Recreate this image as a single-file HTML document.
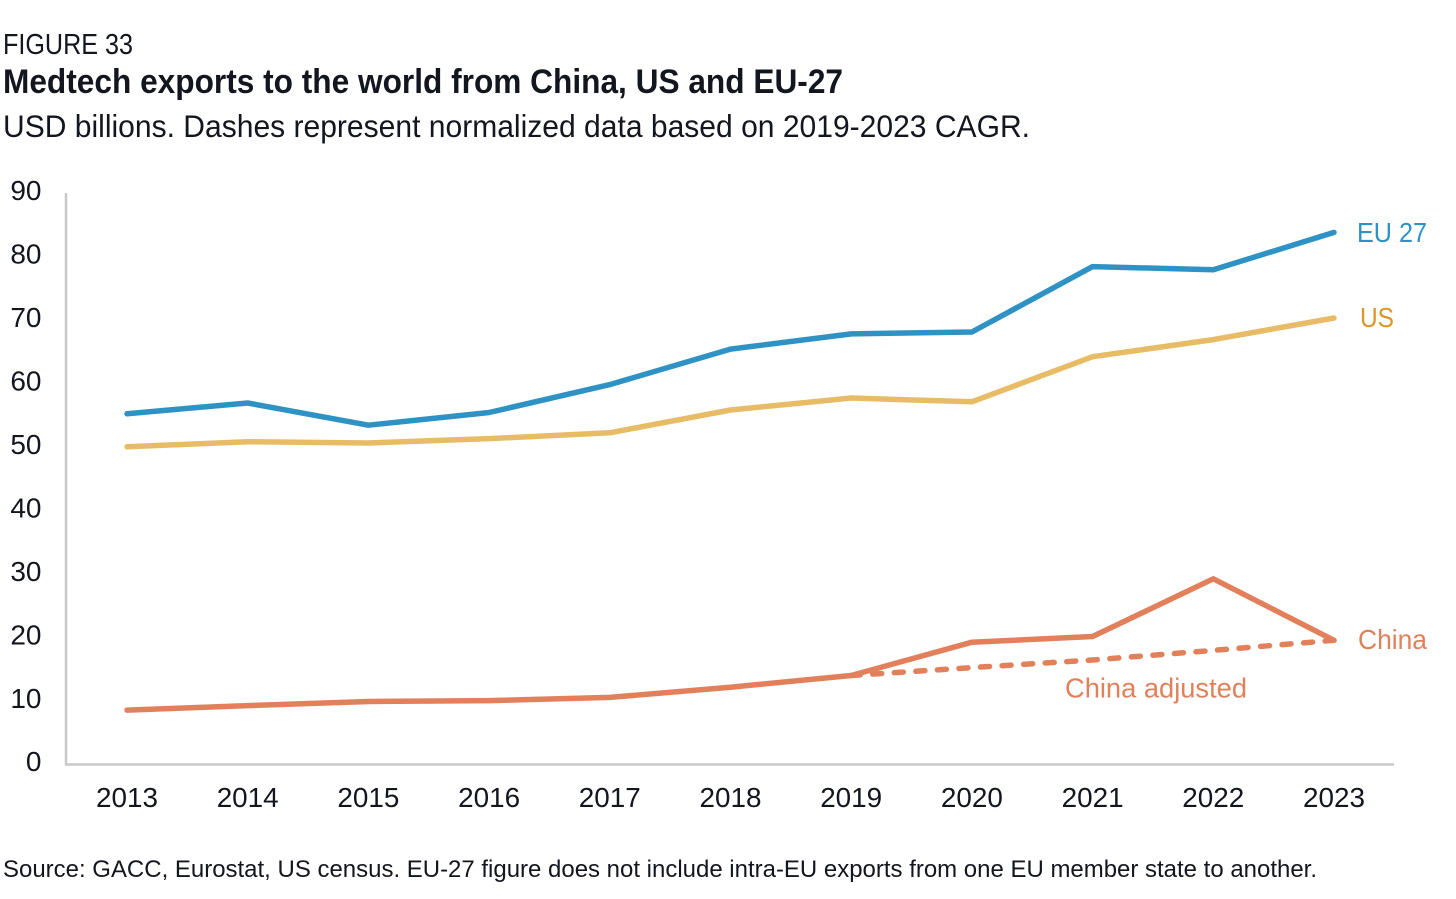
<!DOCTYPE html>
<html lang="en">
<head>
<meta charset="utf-8">
<title>Medtech exports to the world from China, US and EU-27</title>
<style>
html,body{margin:0;padding:0;background:#fff;width:1456px;height:899px;overflow:hidden}
svg{display:block}
text{font-family:"Liberation Sans",sans-serif;fill:#14161f}
</style>
</head>
<body>
<svg id="chart" width="1456" height="899" viewBox="0 0 1456 899" xmlns="http://www.w3.org/2000/svg">
<rect width="1456" height="899" fill="#fff"/>
<text x="3" y="54" font-size="29" textLength="130" lengthAdjust="spacingAndGlyphs">FIGURE 33</text>
<text x="3" y="93" font-size="34" font-weight="700" textLength="840" lengthAdjust="spacingAndGlyphs">Medtech exports to the world from China, US and EU-27</text>
<text x="3" y="137" font-size="31.5" textLength="1027" lengthAdjust="spacingAndGlyphs">USD billions. Dashes represent normalized data based on 2019-2023 CAGR.</text>
<text x="3" y="877" font-size="24.5" textLength="1314" lengthAdjust="spacingAndGlyphs">Source: GACC, Eurostat, US census. EU-27 figure does not include intra-EU exports from one EU member state to another.</text>
<g id="axes"></g>
<g id="series"></g>
<g id="labels"></g>
</svg>
<script>
const years = [2013, 2014, 2015, 2016, 2017, 2018, 2019, 2020, 2021, 2022, 2023];
const yTicks = [0, 10, 20, 30, 40, 50, 60, 70, 80, 90];
const euValues = [55.2, 56.9, 53.4, 55.4, 59.8, 65.4, 67.8, 68.1, 78.4, 77.9, 83.8];
const usValues = [50.0, 50.8, 50.6, 51.3, 52.2, 55.8, 57.7, 57.1, 64.2, 66.9, 70.3];
const chinaValues = [8.5, 9.2, 9.85, 10.0, 10.5, 12.1, 13.95, 19.2, 20.1, 29.2, 19.5];
const chinaAdjustedYears = [2019, 2020, 2021, 2022, 2023];
const chinaAdjustedValues = [13.95, 15.2, 16.4, 17.9, 19.5];

const NS = 'http://www.w3.org/2000/svg';
const xScale = year => 127 + (year - 2013) * 120.7;
const yScale = value => 764 - value * 6.344;
const COLORS = {eu: '#2e93c4', us: '#e8bc66', china: '#e2805c', axis: '#c8c8c8'};

function make(tag, attrs, parent, content) {
  const el = document.createElementNS(NS, tag);
  for (const key in attrs) el.setAttribute(key, attrs[key]);
  if (content !== undefined) el.textContent = content;
  parent.appendChild(el);
  return el;
}

const axes = document.getElementById('axes');
const series = document.getElementById('series');
const labels = document.getElementById('labels');

const yAxis = make('line', {x1: 66, y1: 193, x2: 66, y2: 765, stroke: COLORS.axis, 'stroke-width': 2.5}, axes);


const xAxis = make('line', {x1: 65, y1: 764.5, x2: 1394, y2: 764.5, stroke: COLORS.axis, 'stroke-width': 2.5}, axes);



yTicks.forEach(tick => {
  const el = make('text', {x: 41.5, y: yScale(tick) + 7.2, 'font-size': 28, 'text-anchor': 'end'}, axes, String(tick));
  
  
});
years.forEach(year => {
  const el = make('text', {x: xScale(year), y: 807, 'font-size': 28, 'text-anchor': 'middle', textLength: 62, lengthAdjust: 'spacingAndGlyphs'}, axes, String(year));
  
  
});

function pointsFor(xs, values) {
  return xs.map((x, i) => xScale(x).toFixed(1) + ',' + yScale(values[i]).toFixed(1)).join(' ');
}

const adjustedLine = make('polyline', {points: pointsFor(chinaAdjustedYears, chinaAdjustedValues), fill: 'none', stroke: COLORS.china, 'stroke-width': 5.5, 'stroke-linecap': 'round', 'stroke-linejoin': 'round', 'stroke-dasharray': '9 12.6'}, series);



const chinaLine = make('polyline', {points: pointsFor(years, chinaValues), fill: 'none', stroke: COLORS.china, 'stroke-width': 5.5, 'stroke-linecap': 'round', 'stroke-linejoin': 'round'}, series);



const usLine = make('polyline', {points: pointsFor(years, usValues), fill: 'none', stroke: COLORS.us, 'stroke-width': 5.5, 'stroke-linecap': 'round', 'stroke-linejoin': 'round'}, series);



const euLine = make('polyline', {points: pointsFor(years, euValues), fill: 'none', stroke: COLORS.eu, 'stroke-width': 5.5, 'stroke-linecap': 'round', 'stroke-linejoin': 'round'}, series);



const euLabel = make('text', {x: 1357, y: 242, 'font-size': 28, textLength: 70, lengthAdjust: 'spacingAndGlyphs', style: 'fill:#2e93c4'}, labels, 'EU 27');



const usLabel = make('text', {x: 1360, y: 327, 'font-size': 28, textLength: 34, lengthAdjust: 'spacingAndGlyphs', style: 'fill:#d9972b'}, labels, 'US');



const chinaLabel = make('text', {x: 1358, y: 649, 'font-size': 28, textLength: 69, lengthAdjust: 'spacingAndGlyphs', style: 'fill:#e2805c'}, labels, 'China');



const adjustedLabel = make('text', {x: 1065, y: 697.5, 'font-size': 28, textLength: 182, lengthAdjust: 'spacingAndGlyphs', style: 'fill:#e2805c'}, labels, 'China adjusted');


</script>
</body>
</html>
